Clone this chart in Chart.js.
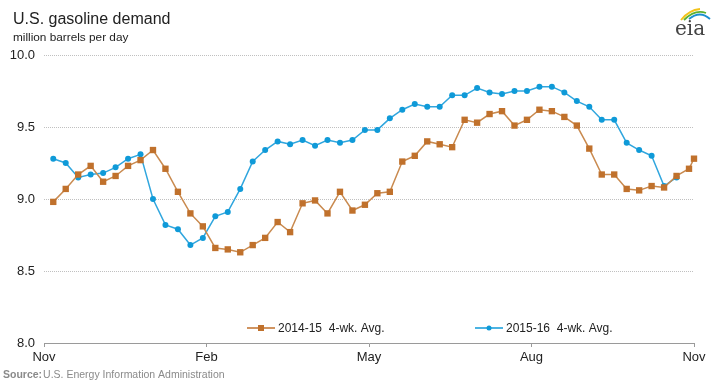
<!DOCTYPE html>
<html>
<head>
<meta charset="utf-8">
<script src="https://cdn.jsdelivr.net/npm/chart.js@4/dist/chart.umd.min.js"></script>
<style>
  body { margin: 0; background: #fff; }
  canvas { display: block; }
</style>
</head>
<body>
<canvas id="demandChart" width="719" height="384"></canvas>
<script>
// weekly values, million barrels per day
const avg2014 = [
  8.98, 9.07, 9.17, 9.23, 9.12, 9.16, 9.23, 9.27, 9.34, 9.21, 9.05, 8.90, 8.81,
  8.66, 8.65, 8.63, 8.68, 8.73, 8.84, 8.77, 8.97, 8.99, 8.90, 9.05, 8.92, 8.96,
  9.04, 9.05, 9.26, 9.30, 9.40, 9.38, 9.36, 9.55, 9.53, 9.59, 9.61, 9.51, 9.55,
  9.62, 9.61, 9.57, 9.51, 9.35, 9.17, 9.17, 9.07, 9.06, 9.09, 9.08, 9.16, 9.21,
  9.28,
];
const avg2015 = [
  9.28, 9.25, 9.15, 9.17, 9.18, 9.22, 9.28, 9.31, 9.00, 8.82, 8.79, 8.68, 8.73,
  8.88, 8.91, 9.07, 9.26, 9.34, 9.40, 9.38, 9.41, 9.37, 9.41, 9.39, 9.41, 9.48,
  9.48, 9.56, 9.62, 9.66, 9.64, 9.64, 9.72, 9.72, 9.77, 9.74, 9.73, 9.75, 9.75,
  9.78, 9.78, 9.74, 9.68, 9.64, 9.55, 9.55, 9.39, 9.34, 9.30, 9.09, 9.15,
];
const seriesNames = ["2014-15  4-wk. Avg.", "2015-16  4-wk. Avg."];

// days since Nov 1; weekly readings, last 2014-15 point falls on the year end
const weekDays = avg2014.map((_, i) => (i < 52 ? 5.2 + 7 * i : 365));
const monthTicks = [0, 91.25, 182.5, 273.75, 365];
const monthLabels = ["Nov", "Feb", "May", "Aug", "Nov"];
const yTicks = [8.0, 8.5, 9.0, 9.5, 10.0];

const orange = "#c0712c";
const blue = "#0f9ad8";

const toPoints = (vals) => vals.map((v, i) => ({ x: weekDays[i], y: v }));

const decorations = {
  id: "decorations",
  afterDraw(chart) {
    const ctx = chart.ctx;
    ctx.save();
    ctx.textBaseline = "alphabetic";
    ctx.textAlign = "left";

    ctx.fillStyle = "#222";
    ctx.font = "16px 'Liberation Sans', Arial, sans-serif";
    ctx.fillText("U.S. gasoline demand", 13, 24);
    ctx.font = "11.8px 'Liberation Sans', Arial, sans-serif";
    ctx.fillText("million barrels per day", 13, 41);

    // source line
    ctx.fillStyle = "#8a8a8a";
    ctx.font = "bold 10.5px 'Liberation Sans', Arial, sans-serif";
    ctx.fillText("Source:", 3, 378);
    const w = ctx.measureText("Source:").width;
    ctx.font = "10.5px 'Liberation Sans', Arial, sans-serif";
    ctx.fillText("U.S. Energy Information Administration", 3 + w + 1, 378);

    // legend
    const legendY = 328;
    const items = [
      { x: 247, color: orange, style: "rect", name: seriesNames[0] },
      { x: 475, color: blue, style: "circle", name: seriesNames[1] },
    ];
    ctx.font = "12px 'Liberation Sans', Arial, sans-serif";
    ctx.textBaseline = "middle";
    items.forEach((it) => {
      ctx.strokeStyle = it.color;
      ctx.lineWidth = 1.5;
      ctx.beginPath();
      ctx.moveTo(it.x, legendY);
      ctx.lineTo(it.x + 28, legendY);
      ctx.stroke();
      ctx.fillStyle = it.color;
      if (it.style === "rect") {
        ctx.fillRect(it.x + 11, legendY - 3, 6, 6);
      } else {
        ctx.beginPath();
        ctx.arc(it.x + 14, legendY, 2.5, 0, Math.PI * 2);
        ctx.fill();
      }
      ctx.fillStyle = "#222";
      ctx.fillText(it.name, it.x + 31, legendY + 1);
    });

    // eia logo
    ctx.textBaseline = "alphabetic";
    ctx.fillStyle = "#444";
    ctx.font = "20px 'DejaVu Serif', 'Liberation Serif', serif";
    ctx.fillText("eia", 675, 35);
    const arcs = [
      ["#f2c31a", 681, 20, 689, 10, 700, 9],
      ["#5cb030", 684, 20, 695, 9, 706, 13],
      ["#1a8fd0", 689, 19, 700, 10, 710, 19],
    ];
    ctx.lineWidth = 1.8;
    arcs.forEach(([c, x0, y0, cx, cy, x1, y1]) => {
      ctx.strokeStyle = c;
      ctx.beginPath();
      ctx.moveTo(x0, y0);
      ctx.quadraticCurveTo(cx, cy, x1, y1);
      ctx.stroke();
    });
    ctx.restore();
  },
};

new Chart(document.getElementById("demandChart"), {
  type: "line",
  data: {
    datasets: [
      {
        label: seriesNames[0],
        data: toPoints(avg2014),
        borderColor: "#c98a4f",
        backgroundColor: orange,
        borderWidth: 1.5,
        pointStyle: "rect",
        pointRadius: 4.5,
        pointBorderWidth: 0,
        pointBackgroundColor: orange,
        tension: 0,
        clip: false,
      },
      {
        label: seriesNames[1],
        data: toPoints(avg2015),
        borderColor: "#30a6de",
        backgroundColor: blue,
        borderWidth: 1.5,
        pointStyle: "circle",
        pointRadius: 3,
        pointBorderWidth: 0,
        pointBackgroundColor: blue,
        tension: 0,
        clip: false,
      },
    ],
  },
  options: {
    responsive: false,
    animation: false,
    devicePixelRatio: 1,
    layout: { padding: { top: 55, right: 25, bottom: 0, left: 0 } },
    plugins: {
      legend: { display: false },
      tooltip: { enabled: false },
    },
    scales: {
      x: {
        type: "linear",
        min: 0,
        max: 365,
        afterBuildTicks: (scale) => {
          scale.ticks = monthTicks.map((v) => ({ value: v }));
        },
        afterFit: (scale) => {
          scale.height = 41;
        },
        ticks: {
          autoSkip: false,
          maxRotation: 0,
          padding: 3,
          color: "#222",
          font: { family: "'Liberation Sans', Arial, sans-serif", size: 13 },
          callback: (v, i) => monthLabels[i],
        },
        grid: {
          drawOnChartArea: false,
          drawTicks: true,
          tickLength: 4,
          color: "#9a9a9a",
        },
        border: { display: true, color: "#9a9a9a", width: 1 },
      },
      y: {
        min: 8,
        max: 10,
        afterBuildTicks: (scale) => {
          scale.ticks = yTicks.map((v) => ({ value: v }));
        },
        afterFit: (scale) => {
          scale.width = 44;
        },
        ticks: {
          padding: 9,
          color: "#222",
          font: { family: "'Liberation Sans', Arial, sans-serif", size: 13 },
          callback: (v) => Number(v).toFixed(1),
        },
        grid: {
          drawTicks: false,
          color: "#c0c0c0",
          lineWidth: 1,
        },
        border: { display: false, dash: [1, 1] },
      },
    },
  },
  plugins: [decorations],
});
</script>
</body>
</html>
